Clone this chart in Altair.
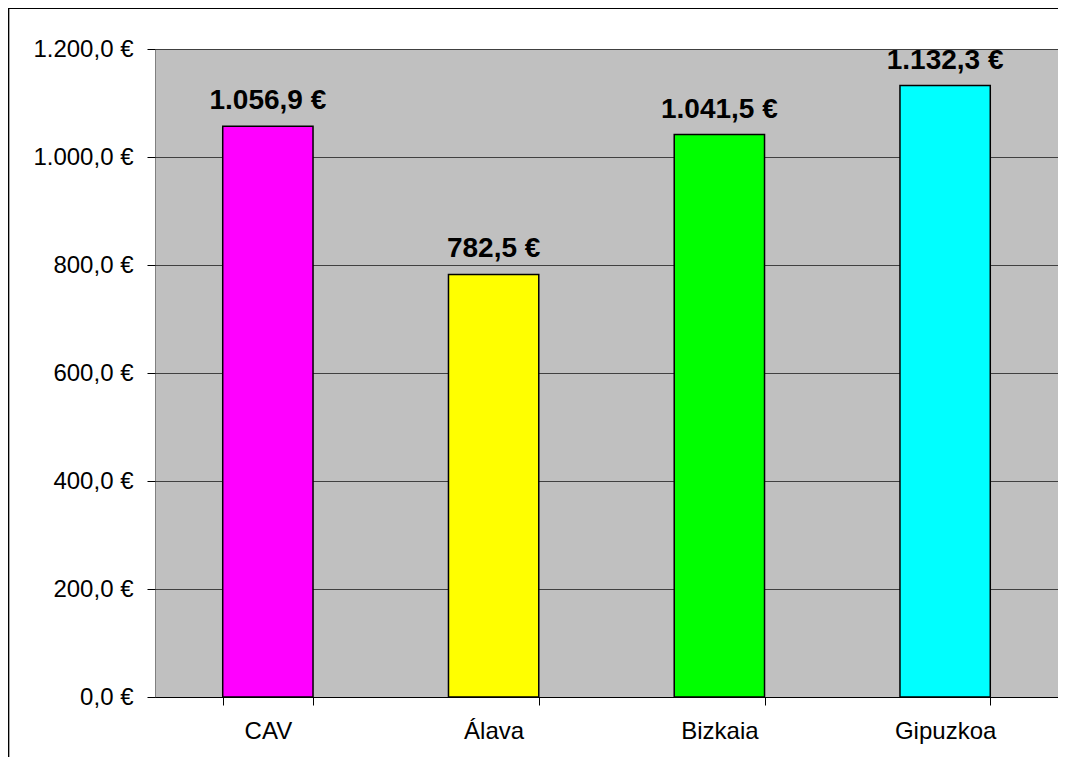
import altair as alt
import pandas as pd

categories = ["CAV", "Álava", "Bizkaia", "Gipuzkoa"]
values = [1056.9, 782.5, 1041.5, 1132.3]
colors = ["#FF00FF", "#FFFF00", "#00FF00", "#00FFFF"]


def eur(v):
    s = f"{v:,.1f}".replace(",", "#").replace(".", ",").replace("#", ".")
    return s + " €"


df = pd.DataFrame({
    "cat": categories,
    "val": values,
    "label": [eur(v) for v in values],
})

FONT = "Liberation Sans"

x = alt.X(
    "cat:N",
    sort=categories,
    title=None,
    scale=alt.Scale(paddingInner=0.6, paddingOuter=0.3),
    axis=alt.Axis(
        labelAngle=0,
        labelFont=FONT,
        labelFontSize=24,
        labelColor="#000",
        labelPadding=14,
        tickBand="extent",
        tickSize=8,
        tickColor="#000",
        domainColor="#000",
        domainWidth=1,
        grid=False,
    ),
)

y = alt.Y(
    "val:Q",
    title=None,
    scale=alt.Scale(domain=[0, 1200], nice=False),
    axis=alt.Axis(
        values=[0, 200, 400, 600, 800, 1000, 1200],
        labelExpr="replace(replace(replace(format(datum.value, ',.1f'), ',', '#'), '.', ','), '#', '.') + ' €'",
        labelFont=FONT,
        labelFontSize=24,
        labelColor="#000",
        labelPadding=14,
        tickSize=8,
        tickColor="#000",
        domain=False,
        grid=True,
        gridColor="#404040",
        gridWidth=1,
    ),
)

bars = alt.Chart(df).mark_bar(stroke="#000", strokeWidth=1.5).encode(
    x=x,
    y=y,
    color=alt.Color("cat:N", sort=categories,
                    scale=alt.Scale(domain=categories, range=colors), legend=None),
)

labels = alt.Chart(df).mark_text(
    font=FONT, fontSize=28, fontWeight="bold", color="#000",
    baseline="alphabetic", dy=-17,
).encode(
    x=alt.X("cat:N", sort=categories),
    y=alt.Y("val:Q"),
    text="label:N",
)

border_left = alt.Chart(df).mark_rule(color="#000", strokeWidth=1.2).encode(
    x=alt.value(-146.5), y=alt.value(-40.5), y2=alt.value(720)
)
border_top = alt.Chart(df).mark_rule(color="#000", strokeWidth=1.2).encode(
    x=alt.value(-146.5), x2=alt.value(920), y=alt.value(-40.5)
)

chart = alt.layer(bars, labels, border_left, border_top).properties(
    width=903,
    height=648,
    autosize=alt.AutoSizeParams(type="none"),
    padding={"left": 147, "top": 41, "right": 0, "bottom": 60},
    background="#FFFFFF",
).configure_view(
    fill="#C0C0C0",
    stroke="#808080",
    strokeWidth=1,
)

chart.save("out.html", embed_options={"renderer": "svg", "actions": False})
